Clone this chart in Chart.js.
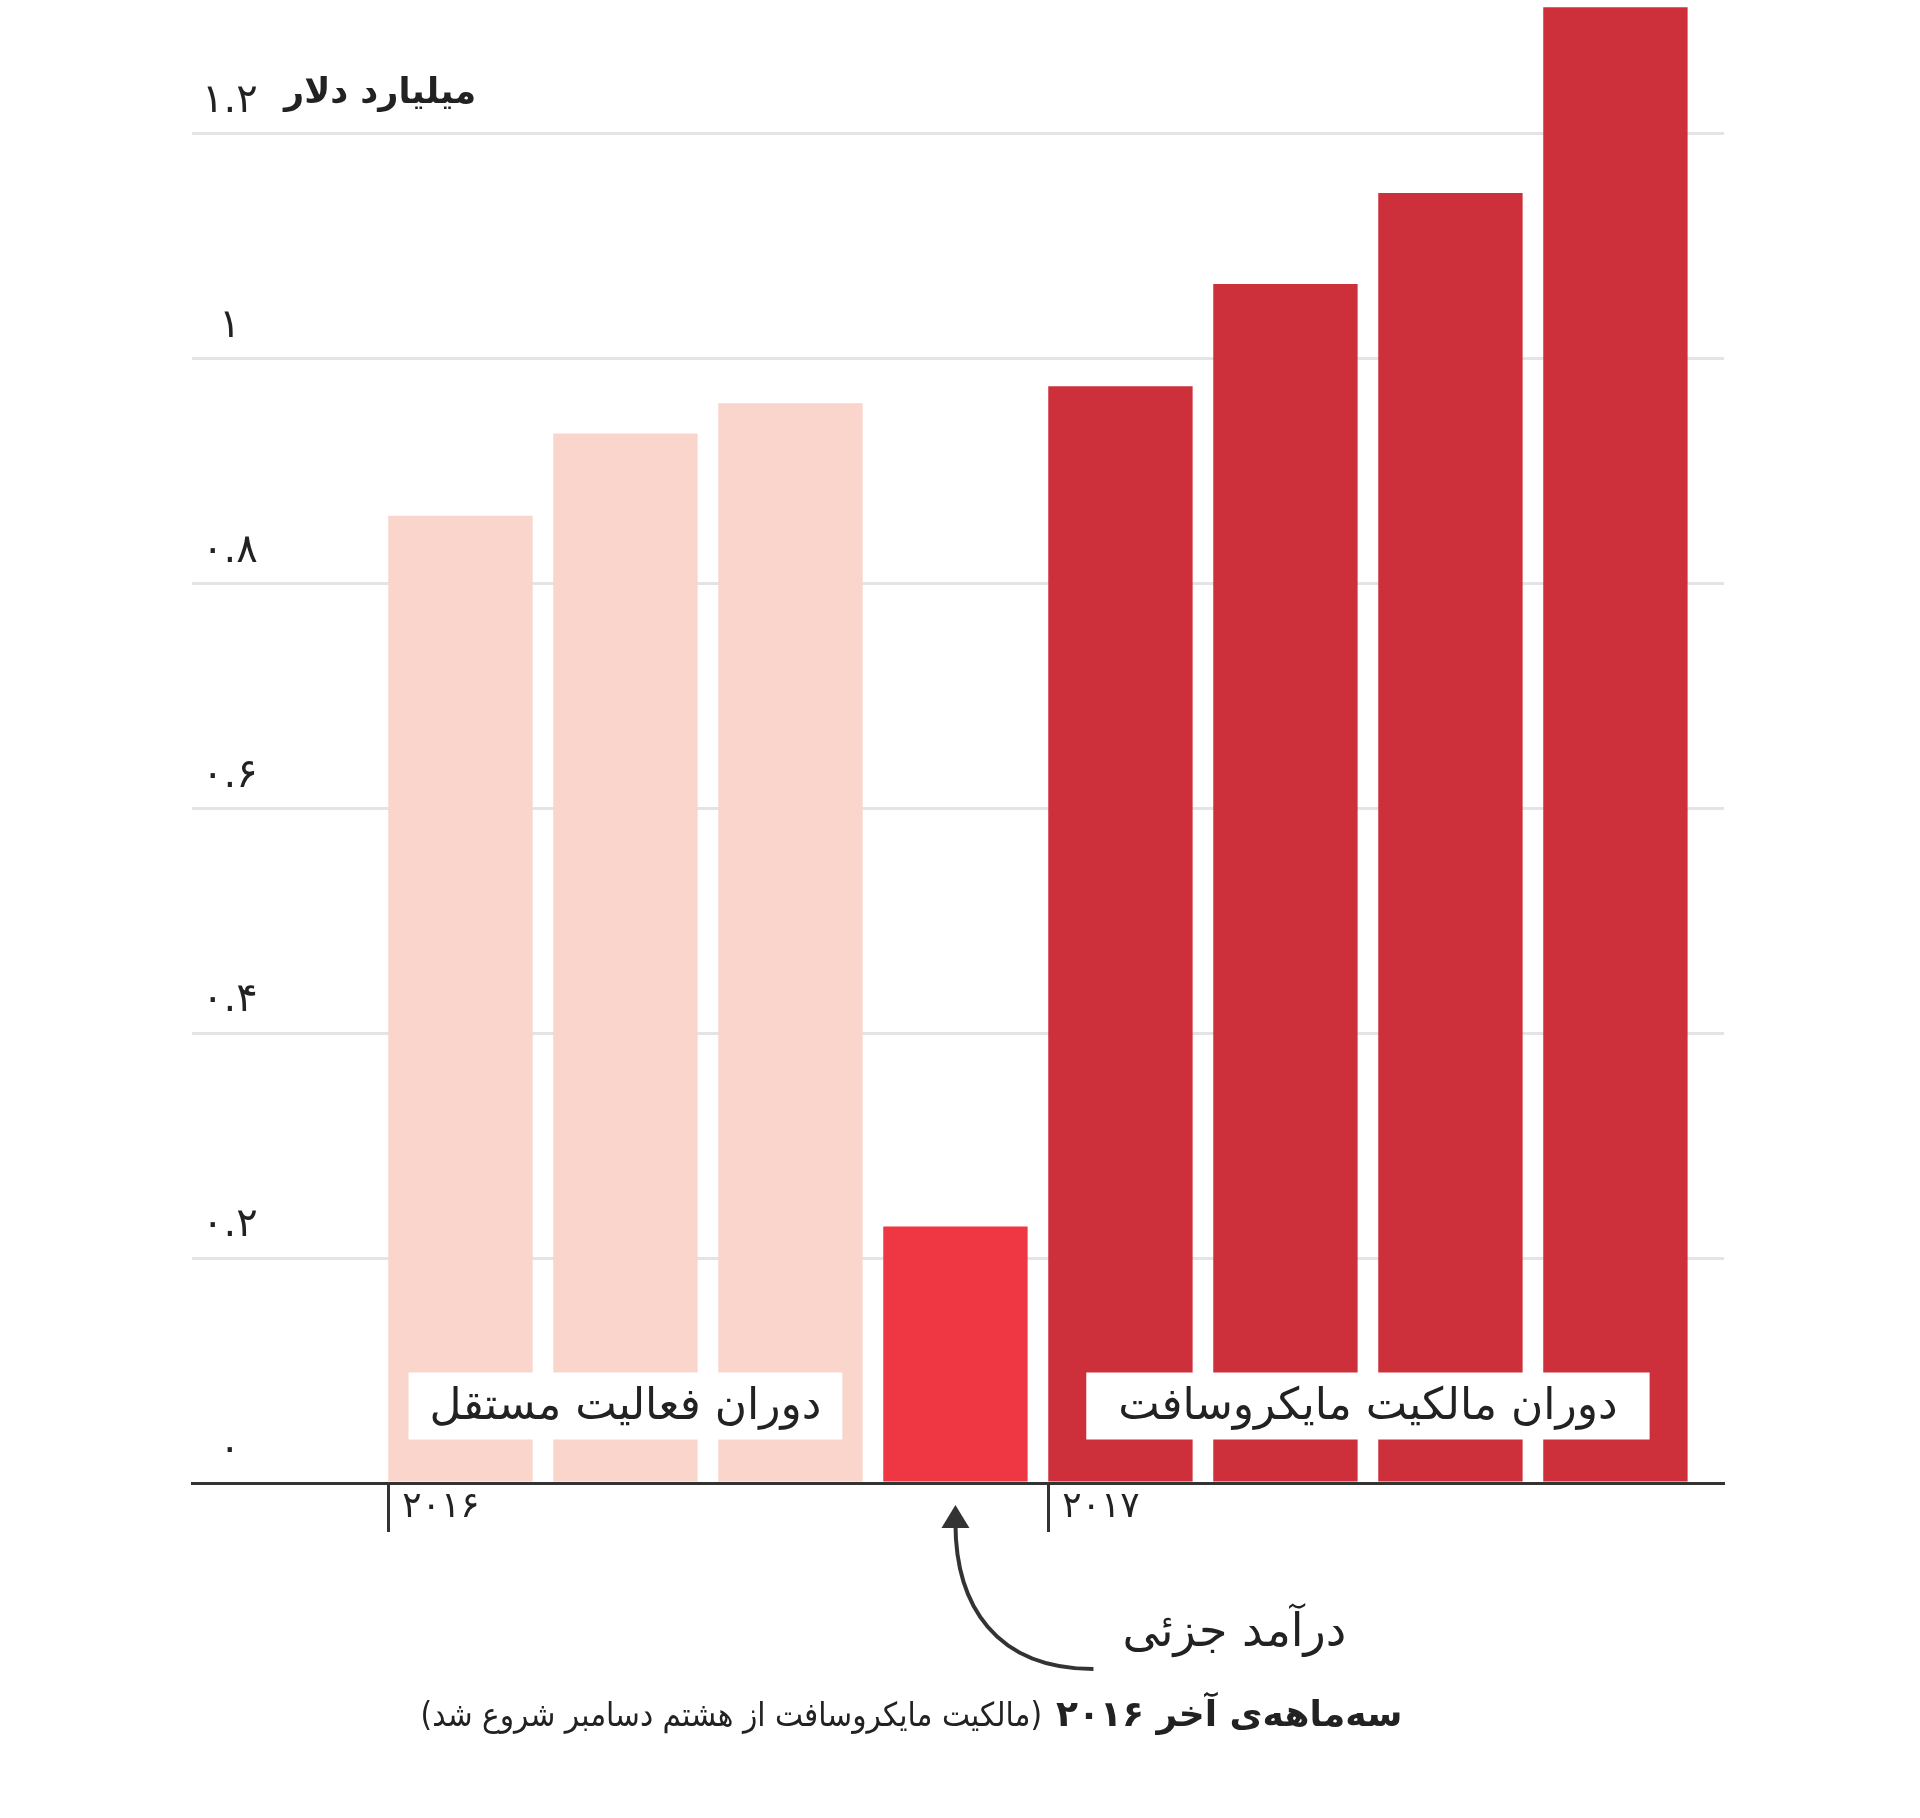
<!DOCTYPE html>
<html>
<head>
<meta charset="utf-8">
<script src="https://cdn.jsdelivr.net/npm/chart.js@4.4.1/dist/chart.umd.min.js"></script>
<style>
html,body{margin:0;padding:0;background:#fff}
#wrap{width:1920px;height:1818px;position:relative}
</style>
</head>
<body>
<div id="wrap"><canvas id="c"></canvas></div>
<script>
// ---- data ----
const quarters = ['Q1 2016','Q2 2016','Q3 2016','Q4 2016','Q1 2017','Q2 2017','Q3 2017','Q4 2017'];
const revenue = [0.86, 0.933, 0.96, 0.228, 0.975, 1.066, 1.147, 1.312];
const periods = ['independent','independent','independent','partial','microsoft','microsoft','microsoft','microsoft'];
const periodColors = {independent:'#F9D5CB', partial:'#EE3743', microsoft:'#CD303A'};
const periodLabels = {independent:'دوران فعالیت مستقل', microsoft:'دوران مالکیت مایکروسافت'};
const yearLabels = ['۲۰۱۶','۲۰۱۷'];
const yearFirstQuarter = [0, 4];
const yTickValues = [0, 0.2, 0.4, 0.6, 0.8, 1, 1.2];
const unitLabel = 'میلیارد دلار';
const partialLabel = 'درآمد جزئی';
const noteBold = 'سه‌ماهه‌ی آخر ۲۰۱۶';
const noteRegular = '(مالکیت مایکروسافت از هشتم دسامبر شروع شد)';
const partialIndex = periods.indexOf('partial');

// ---- helpers ----
const FA = '۰۱۲۳۴۵۶۷۸۹';
const toFa = s => String(s).replace(/\d/g, d => FA[d]);
const fmt = v => { const r = Math.round(v * 10) / 10; return toFa(r.toString()); };
const FONT = '"DejaVu Sans", "Noto Sans", sans-serif';
const BAR_PCT = 0.875;
Chart.defaults.font.family = FONT;
Chart.defaults.color = '#222';

const annotations = {
  id: 'annotations',
  afterDatasetsDraw(chart) {
    const {ctx, scales: {x, y}} = chart;
    const base = y.getPixelForValue(0);
    ctx.save();
    ctx.font = '44px ' + FONT;
    ctx.direction = 'rtl';
    ctx.textAlign = 'center';
    ctx.textBaseline = 'middle';
    Object.keys(periodLabels).forEach((key, k) => {
      const idx = [];
      periods.forEach((p, i) => { if (p === key) idx.push(i + 1); });
      const cx = x.getPixelForValue((idx[0] + idx[idx.length - 1]) / 2);
      const text = periodLabels[key];
      const w = ctx.measureText(text).width + (k === 0 ? 42 : 64);
      const cy = base - 77;
      ctx.fillStyle = '#fff';
      ctx.fillRect(cx - w / 2, cy - 33.5, w, 67);
      ctx.fillStyle = '#222';
      ctx.fillText(text, cx, cy + 2);
    });
    ctx.restore();
  },
  afterDraw(chart) {
    const {ctx, chartArea, scales: {x, y}} = chart;
    const base = y.getPixelForValue(0);
    ctx.save();
    // unit label next to top tick
    ctx.direction = 'rtl';
    ctx.fillStyle = '#222';
    ctx.textBaseline = 'middle';
    ctx.textAlign = 'left';
    ctx.font = 'bold 35px ' + FONT;
    ctx.fillText(unitLabel, chartArea.left + 92, y.getPixelForValue(1.2) - 39);

    // arrow to partial quarter bar
    const tipX = x.getPixelForValue(partialIndex + 1);
    const tipY = base + 22;
    const endX = tipX + 138, endY = base + 186;
    ctx.strokeStyle = '#333';
    ctx.fillStyle = '#333';
    ctx.lineWidth = 4;
    ctx.beginPath();
    ctx.moveTo(tipX, tipY + 18);
    ctx.bezierCurveTo(tipX, tipY + 100, tipX + 40, endY, endX, endY);
    ctx.stroke();
    ctx.beginPath();
    ctx.moveTo(tipX, tipY);
    ctx.lineTo(tipX + 14, tipY + 23);
    ctx.lineTo(tipX - 14, tipY + 23);
    ctx.closePath();
    ctx.fill();

    // partial revenue label
    ctx.fillStyle = '#222';
    ctx.font = '46px ' + FONT;
    ctx.textAlign = 'left';
    ctx.fillText(partialLabel, endX + 29, base + 151);

    // bottom note
    const noteRight = endX + 309;
    ctx.textAlign = 'right';
    ctx.font = 'bold 36px ' + FONT;
    ctx.fillText(noteBold, noteRight, base + 234);
    const wb = ctx.measureText(noteBold).width;
    ctx.font = '33px "DejaVu Sans Condensed", ' + FONT;
    ctx.fillText(noteRegular, noteRight - wb - 14, base + 234);
    ctx.restore();
  }
};

new Chart(document.getElementById('c'), {
  type: 'bar',
  data: {
    labels: quarters,
    datasets: [{
      label: 'درآمد',
      data: revenue.map((v, i) => ({x: i + 1, y: v})),
      backgroundColor: periods.map(p => periodColors[p]),
      barPercentage: BAR_PCT,
      categoryPercentage: 1,
      borderWidth: 0
    }]
  },
  options: {
    responsive: true,
    maintainAspectRatio: false,
    animation: false,
    layout: {padding: {left: 182, right: 196, top: 0, bottom: 275}},
    plugins: {legend: {display: false}, tooltip: {enabled: false}},
    scales: {
      x: {
        type: 'linear',
        min: -0.627,
        max: 8.658,
        offset: false,
        afterBuildTicks: s => { s.ticks = yearFirstQuarter.map(i => ({value: i + 1 - BAR_PCT / 2})); },
        afterFit: s => { s.height = 60; s.paddingLeft = 0; s.paddingRight = 0; },
        grid: {offset: false, drawOnChartArea: false, drawTicks: true, tickLength: 49, tickWidth: 3, tickColor: '#333'},
        border: {display: true, color: '#333', width: 3, z: 1},
        ticks: {
          align: 'start', labelOffset: 14, padding: -46, autoSkip: false, maxRotation: 0,
          font: {size: 36}, color: '#222',
          callback: (v, i) => yearLabels[i]
        }
      },
      y: {
        min: 0,
        max: 1.3185,
        position: 'left',
        afterBuildTicks: s => { s.ticks = yTickValues.map(v => ({value: v})); },
        afterFit: s => { s.width = 10; s.paddingTop = 0; s.paddingBottom = 0; },
        grid: {
          color: c => (c.tick && c.tick.value === 0) ? 'rgba(0,0,0,0)' : '#E4E4E4',
          lineWidth: 3,
          drawTicks: false
        },
        border: {display: false},
        ticks: {
          mirror: true, crossAlign: 'center', padding: 10, labelOffset: -32,
          font: {size: 40}, color: '#222',
          callback: v => fmt(v)
        }
      }
    }
  },
  plugins: [annotations]
});
</script>
</body>
</html>
